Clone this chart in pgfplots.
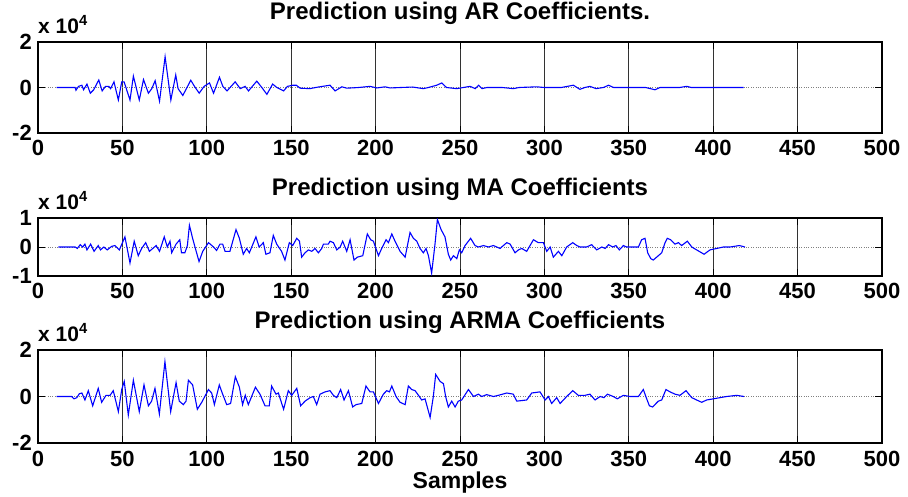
\documentclass[border=0pt]{standalone}
\usepackage{fontspec}
\setmainfont{Liberation Sans}
\usepackage{pgfplots}
\pgfplotsset{compat=1.18}
\pgfplotsset{
  mypanel/.style={
    scale only axis, width=844pt, xmin=0, xmax=500,
    xtick={0,50,100,150,200,250,300,350,400,450,500},
    xticklabels={0,50,100,150,200,250,300,350,400,450,500},
    axis line style={line width=1.3pt, black},
    tick align=inside, major tick length=7pt,
    every tick/.style={black, line width=0.8pt},
    xmajorgrids, ymajorgrids,
    x grid style={black!80, line width=0.8pt},
    y grid style={gray, dotted, line width=0.8pt},
    tick label style={font=\fontsize{22}{22}\selectfont\bfseries},
    /pgf/number format/assume math mode=true,
    xticklabel style={anchor=base, yshift=-23pt, inner sep=0pt, text depth=0pt},
    yticklabel style={anchor=east, xshift=-6pt, inner sep=0pt},
    title style={at={(0.5,1)}, anchor=base, yshift=16pt, inner sep=0pt,
      font=\fontsize{24}{24}\selectfont\bfseries},
    extra description/.code={
      \node[anchor=base west, inner sep=0pt, yshift=9pt,
        font=\fontsize{21}{21}\selectfont\bfseries] at (0,1) {x 10\textsuperscript{4}};
    },
  }
}
\begin{document}
\begin{tikzpicture}[x=1pt,y=1pt]
\useasboundingbox (0,0) rectangle (908,496);
% Panel 1
\begin{axis}[mypanel, at={(38pt,363pt)}, anchor=south west, height=91pt,
  ymin=-2, ymax=2, ytick={-2,0,2}, yticklabels={-2,0,2},
  title={Prediction using AR Coefficients.}]
\addplot[blue, line width=1.1pt] coordinates {
(11,0)(22,0)(22.5,-0.12)(24,0.05)(26,0.1)(27,-0.1)(29,0.15)(31,-0.25)(33,-0.1)(36,0.33)(38,-0.15)(40,0.05)(42,0.05)(43,-0.05)(45,0.25)(47.6,-0.55)(49.6,0.25)(51,0.25)(54.5,-0.55)(56.5,0.5)(60,-0.55)(62.5,0.35)(65.4,-0.25)(67.4,-0.05)(69.4,0.3)(72,-0.6)(75.3,1.35)(78.7,-0.55)(81.6,0.55)(83,-0.05)(85.8,-0.35)(90.5,0.32)(92.7,0.05)(95.5,-0.25)(98.4,0.05)(101.6,0.2)(104,-0.25)(107.5,0.45)(109.5,0.05)(112,-0.15)(116.8,0.25)(119.8,-0.05)(122.7,0.05)(124.7,-0.15)(129.6,0.28)(132.6,0)(135.6,-0.3)(139,0.15)(141.5,0)(145.5,-0.15)(147.8,0.05)(151,0.1)(153,0.1)(155.3,-0.03)(161,-0.05)(166,0.02)(173,0.1)(176,-0.15)(180,0.03)(183,-0.03)(190,0)(196.7,0.05)(200.7,-0.02)(205.6,0.03)(208.6,-0.02)(215,0)(222,0.02)(228.3,-0.05)(231.3,0)(236.2,0.1)(239.2,0.2)(242,0)(248,-0.05)(252,0)(256,0.05)(259,-0.05)(261,0.1)(263,-0.05)(266,0)(275,0)(281.6,-0.05)(285,0)(295.5,0.03)(300,0)(310,0)(317.2,0.1)(321,-0.08)(324,0)(327,0.05)(330.6,-0.05)(335,0)(338,0.1)(341,0)(350,0)(360,0)(365.5,-0.1)(368.5,0)(380,0)(384.3,0.05)(387,0)(400,0)(418,0)
};
\end{axis}
% Panel 2
\begin{axis}[mypanel, at={(38pt,220pt)}, anchor=south west, height=58pt,
  ymin=-1, ymax=1, ytick={-1,0,1}, yticklabels={-1,0,1},
  title={Prediction using MA Coefficients}]
\addplot[blue, line width=1.1pt] coordinates {
(12,0)(22,0)(23.3,-0.05)(25,0.08)(26.5,0)(27.8,0.1)(29,-0.1)(31.2,0.1)(33.2,-0.15)(35.7,0.05)(37,-0.1)(39,0)(41,-0.1)(43.6,0.02)(45.6,0.05)(48.2,-0.1)(51.5,0.35)(54.5,-0.55)(57,0.2)(59.4,-0.3)(61.4,-0.05)(63.8,0.15)(66,-0.15)(68,-0.05)(70,0.05)(72,-0.15)(74.8,0.35)(76.6,0)(78.2,0.2)(79.2,-0.2)(81.8,0.1)(84,0.25)(85,-0.2)(87,-0.2)(88.5,0.05)(89.7,0.75)(91.6,0.3)(93,0)(95.4,-0.5)(97.6,-0.15)(101,0.15)(104,0)(105.8,-0.12)(107.8,0.1)(109.4,0.1)(110.8,-0.15)(113.7,-0.15)(117.3,0.6)(119.3,0.3)(121.6,-0.25)(123.6,-0.05)(125.2,-0.2)(129.1,0.35)(131,0)(133.5,0.15)(135,-0.25)(137.4,-0.2)(139.4,0.4)(141.4,0.1)(144.3,-0.15)(146.3,-0.45)(148.9,0.15)(150.9,0.05)(153.3,0.3)(154.9,0.2)(156.2,-0.35)(158.2,-0.2)(160.2,-0.1)(162.2,-0.15)(164.1,-0.05)(166.1,-0.2)(168.1,-0.05)(169.1,0.1)(172,0.1)(173,0.2)(175,0.15)(177,-0.1)(179,0)(180.5,0.2)(182.9,-0.15)(184.9,0.25)(187.2,-0.45)(189.2,-0.35)(192.4,-0.3)(195.1,0.45)(197.1,0.25)(198.7,0.2)(201.7,-0.3)(203.6,-0.05)(206.2,0.25)(207.6,0.15)(209.6,0.45)(211.5,0.2)(214.5,-0.15)(217.5,-0.35)(220.4,0.5)(222.4,0.3)(224.4,0.2)(226.3,-0.05)(228.3,-0.2)(229.9,-0.05)(231.3,-0.3)(233.2,-0.9)(235.2,0.1)(236.6,0.95)(238.8,0.6)(241.1,0.35)(243.1,-0.25)(244.5,-0.45)(246.1,-0.3)(248.1,-0.4)(249.6,-0.1)(251,-0.2)(253,0.05)(256.3,0.3)(258.9,0.05)(260.9,0)(263.9,0.05)(266.8,0)(269.8,0.05)(273.7,-0.05)(277.7,0.15)(279.7,0.1)(282.6,-0.2)(284.6,-0.1)(286.6,-0.05)(289.5,-0.15)(293.5,0.25)(296.4,0.15)(299.4,0.15)(301.4,-0.15)(303.4,0)(305.3,-0.35)(308.3,-0.15)(310.3,-0.3)(313.2,0)(316.8,0.15)(319.2,0.05)(321.1,0)(325,0)(328,0.08)(331,-0.1)(334,0)(336,-0.05)(338,0.08)(340.5,0)(342.4,0.05)(344.4,-0.1)(346.8,0.05)(348.7,0)(355.7,0)(357.6,0.25)(359.6,0.3)(361.2,-0.2)(363,-0.4)(364.5,-0.45)(367.5,-0.3)(369.5,-0.2)(371.5,0.15)(372.8,0.3)(374.8,0.25)(377.4,0.1)(379.4,0.15)(381.3,0.05)(384.7,0.2)(387.3,0)(390.2,-0.1)(394.6,-0.25)(398.1,-0.1)(402.1,-0.05)(406,0)(410,0)(415.5,0.05)(418.8,0)
};
\end{axis}
% Panel 3
\begin{axis}[mypanel, at={(38pt,53pt)}, anchor=south west, height=93pt,
  ymin=-2, ymax=2, ytick={-2,0,2}, yticklabels={-2,0,2},
  title={Prediction using ARMA Coefficients},
  xlabel={Samples},
  xlabel style={at={(0.5,0)}, anchor=base, yshift=-45pt, inner sep=0pt,
    font=\fontsize{23}{23}\selectfont\bfseries}]
\addplot[blue, line width=1.1pt] coordinates {
(11,0)(20,0)(21.3,-0.1)(23,-0.05)(24.5,0.12)(26,0.15)(27.8,-0.15)(29.8,0.25)(32.4,-0.4)(35.7,0.35)(37.7,-0.25)(40.3,0.05)(42.7,0.05)(44.6,0.25)(47.6,-0.65)(49.6,0.3)(51.1,0.65)(53.5,-0.8)(56.5,0.7)(60,-0.65)(62.8,0.5)(65.4,-0.4)(67.3,-0.2)(69.3,0.35)(71.9,-0.75)(75.2,1.5)(78.6,-0.65)(81.8,0.6)(83.7,-0.2)(86.1,-0.35)(87.7,-0.2)(89.1,0.7)(91.6,0.5)(94.4,-0.55)(97,-0.25)(101,0.3)(102.9,0.15)(104.5,-0.35)(107.4,0.5)(109.4,0.1)(111.8,-0.35)(114.1,-0.3)(116.9,0.85)(119.3,0.4)(121.2,-0.35)(122.8,0.05)(124.6,-0.35)(128.8,0.4)(131.5,0.1)(134.5,-0.4)(137,-0.4)(138.4,0.45)(141,0.1)(142.4,0.15)(145.5,-0.55)(148.3,0.25)(150.3,0.05)(153.3,0.35)(155.6,-0.4)(158.2,-0.2)(161.2,-0.05)(163.1,0)(165.1,-0.35)(167.1,0.1)(170.1,0.2)(173,0.25)(175,0.05)(177,-0.05)(179.3,0.3)(181.3,-0.15)(183.9,0.25)(186.4,-0.45)(188.4,-0.35)(191.8,-0.3)(194.3,0.45)(196.7,0.2)(198.7,0.2)(201.7,-0.3)(204.6,0.1)(206.6,0.25)(208.2,0.2)(209.6,0.45)(212.1,0)(214.5,-0.25)(217.5,-0.35)(219.4,0.45)(221.4,0.3)(223.4,0.25)(225.4,0.05)(227.3,-0.15)(229.3,-0.1)(232.3,-0.9)(234.2,0)(235.6,0.95)(238.2,0.65)(240.2,0.55)(241.5,0)(243.1,-0.45)(245.1,-0.2)(247.1,-0.45)(249,-0.2)(251,-0.15)(255,0.3)(258,0)(260.9,0.1)(262.9,0)(265.8,0.08)(269.8,0)(272.7,0.05)(277.7,0.15)(281.6,0.1)(283.6,-0.2)(289.5,-0.15)(292.5,0.15)(297.4,0.2)(300.4,-0.15)(302.4,0)(304.3,-0.3)(307.3,-0.05)(309.3,-0.3)(313.2,0)(316.8,0.25)(320.1,0.05)(324,0.05)(327,0.1)(330,-0.15)(333,0)(335.3,-0.05)(337.3,0.1)(340.8,0)(343.2,-0.1)(346.8,0.05)(350.7,0)(355.7,0)(358.6,0.3)(360.6,-0.1)(362.2,-0.4)(364.1,-0.45)(367.5,-0.2)(369.5,-0.15)(372,0.3)(374.4,0.2)(377.4,0.1)(380.3,0.05)(383.9,0.25)(387.3,-0.05)(390.2,-0.15)(393.2,-0.25)(396.1,-0.15)(400.1,-0.1)(404,-0.05)(408,0)(413.9,0.05)(418.3,0)
};
\end{axis}
\end{tikzpicture}
\end{document}
